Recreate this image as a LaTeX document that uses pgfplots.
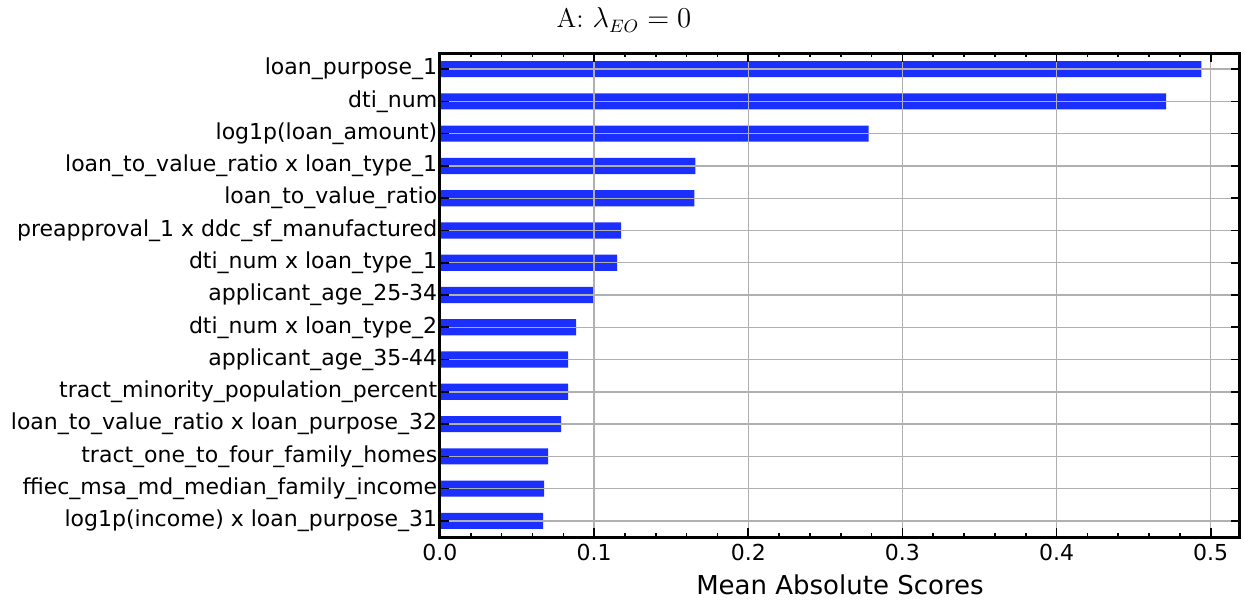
\documentclass[border=0pt]{standalone}
\usepackage{fontspec}
\usepackage{pgfplots}
\pgfplotsset{compat=1.18}
\newfontfamily\dejavu{DejaVu Sans}
\definecolor{barblue}{RGB}{27,47,255}
\definecolor{gridgray}{RGB}{176,176,176}
\begin{document}
\begin{tikzpicture}
\begin{axis}[
  scale only axis, width=400pt, height=242pt,
  xmin=0, xmax=0.519, ymin=-0.5, ymax=14.5, y dir=reverse,
  xbar, bar width=0.5,
  ytick={0,1,2,3,4,5,6,7,8,9,10,11,12,13,14},
  yticklabels={loan\_purpose\_1, dti\_num, log1p(loan\_amount), loan\_to\_value\_ratio x loan\_type\_1, loan\_to\_value\_ratio, preapproval\_1 x ddc\_sf\_manufactured, dti\_num x loan\_type\_1, applicant\_age\_25-34, dti\_num x loan\_type\_2, applicant\_age\_35-44, tract\_minority\_population\_percent, loan\_to\_value\_ratio x loan\_purpose\_32, tract\_one\_to\_four\_family\_homes, ffiec\_msa\_md\_median\_family\_income, log1p(income) x loan\_purpose\_31},
  xtick={0,0.1,0.2,0.3,0.4,0.5},
  minor x tick num=4,
  tick pos=both, tick align=inside,
  major tick length=4.5pt, minor tick length=2pt,
  every tick/.style={black, line width=0.8pt},
  axis line style={line width=1.5pt},
  grid=major, major grid style={gridgray, line width=0.7pt},
  axis on top,
  /pgf/number format/assume math mode=true,
  xticklabel style={/pgf/number format/.cd, fixed, fixed zerofill, precision=1},
  ticklabel style={font=\dejavu\fontsize{11}{13}\selectfont},
  yticklabel style={inner sep=1.2pt},
  xlabel={Mean Absolute Scores},
  xlabel style={font=\dejavu\fontsize{13}{15}\selectfont},
]
\addplot[fill=barblue, draw=none] coordinates {
(0.494,0) (0.471,1) (0.278,2) (0.1656,3) (0.165,4) (0.1175,5) (0.1149,6) (0.0994,7) (0.0883,8) (0.0831,9) (0.0831,10) (0.0786,11) (0.0701,12) (0.0675,13) (0.0669,14)
};
\coordinate (T) at (axis description cs:0.5,1);
\coordinate (SW) at (axis description cs:0,0);
\end{axis}
\node[anchor=base, font=\fontsize{13.5}{16}\selectfont, xshift=-108pt, yshift=12.5pt] at (T) {A: $\lambda_{EO} = 0$};
\pgfresetboundingbox
\path ([shift={(-220pt,-31.5pt)}]SW) rectangle ([shift={(402pt,268.5pt)}]SW);
\end{tikzpicture}
\end{document}
